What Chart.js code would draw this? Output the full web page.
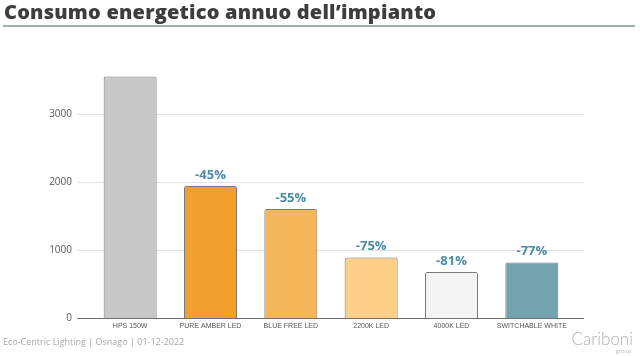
<!DOCTYPE html>
<html>
<head>
<meta charset="utf-8">
<script src="https://cdn.jsdelivr.net/npm/chart.js@4"></script>
<style>
  html, body { margin: 0; padding: 0; background: #fff; }
  #wrap { position: relative; width: 640px; height: 356px; overflow: hidden; }
  #title { position: absolute; left: 4px; top: -2px; font-family: "Open Sans", sans-serif; font-weight: 800; font-size: 20px; color: #3d3d3d; white-space: nowrap; letter-spacing: 0.2px; }
  #rule { position: absolute; left: 3px; top: 25px; width: 632px; height: 2px; background: #9fb0ab; }
  #footer { position: absolute; left: 3px; top: 335px; font-family: "Open Sans", sans-serif; font-size: 9px; color: #a8a8a8; white-space: nowrap; }
  #logo { position: absolute; right: 7px; top: 330px; font-family: Lato, sans-serif; font-weight: 300; font-size: 17px; color: #b3b3b3; line-height: 17px; }
  #logo2 { position: absolute; right: 9px; top: 347px; font-family: Lato, sans-serif; font-size: 6px; color: #c4c4c4; }
  canvas { position: absolute; left: 0; top: 0; }
</style>
</head>
<body>
<div id="wrap">
  <canvas id="c" width="640" height="356"></canvas>
  <div id="title">Consumo energetico annuo dell’impianto</div>
  <div id="rule"></div>
  <div id="footer">Eco-Centric Lighting | Osnago | 01-12-2022</div>
  <div id="logo">Cariboni</div>
  <div id="logo2">group</div>
</div>
<script>
const categories = ['HPS 150W', 'PURE AMBER LED', 'BLUE FREE LED', '2200K LED', '4000K LED', 'SWITCHABLE WHITE'];
const consumption = [3550, 1940, 1600, 888, 675, 816];
const savingLabels = ['', '-45%', '-55%', '-75%', '-81%', '-77%'];
const yTicks = [0, 1000, 2000, 3000];
const barColors = ['#c8c8c8', '#f0a02c', '#f5b65a', '#fdd08a', '#f3f3f3', '#74a3ad'];

const gridPlugin = {
  id: 'extGrid',
  beforeDatasetsDraw(chart) {
    const { ctx, chartArea, scales } = chart;
    ctx.save();
    ctx.lineWidth = 1;
    yTicks.forEach(v => {
      if (v === 0) return;
      const y = Math.round(scales.y.getPixelForValue(v)) + 0.5;
      ctx.strokeStyle = '#e3e3e3';
      ctx.beginPath();
      ctx.moveTo(chartArea.left - 13, y);
      ctx.lineTo(chartArea.right + 12, y);
      ctx.stroke();
    });
    ctx.restore();
  },
  afterDatasetsDraw(chart) {
    const { ctx, chartArea, scales } = chart;
    ctx.save();
    const y = Math.round(scales.y.getPixelForValue(0)) + 0.5;
    ctx.strokeStyle = '#6e6e6e';
    ctx.lineWidth = 1;
    ctx.beginPath();
    ctx.moveTo(chartArea.left - 13, y);
    ctx.lineTo(chartArea.right + 12, y);
    ctx.stroke();
    const meta = chart.getDatasetMeta(0);
    ctx.font = 'bold 13px "Open Sans", sans-serif';
    ctx.fillStyle = '#4d8aa6';
    ctx.textAlign = 'center';
    ctx.textBaseline = 'middle';
    meta.data.forEach((bar, i) => {
      if (savingLabels[i]) ctx.fillText(savingLabels[i], bar.x, bar.y - 11);
    });
    ctx.restore();
  }
};

new Chart(document.getElementById('c'), {
  type: 'bar',
  data: {
    labels: categories,
    datasets: [{
      data: consumption,
      backgroundColor: barColors,
      borderColor: '#7a7a7a',
      borderWidth: 1,
      borderRadius: 2,
      borderSkipped: 'bottom',
      categoryPercentage: 1,
      barPercentage: 0.66
    }]
  },
  options: {
    responsive: false,
    animation: false,
    layout: { padding: { left: 0, right: 68, top: 73, bottom: 0 } },
    plugins: { legend: { display: false }, tooltip: { enabled: false } },
    scales: {
      x: {
        grid: { display: false, drawTicks: false },
        border: { display: false },
        ticks: { color: '#555', font: { family: '"Liberation Sans", Arial, sans-serif', size: 7 }, padding: 4, maxRotation: 0, autoSkip: false },
        afterFit(s) { s.height = 38; }
      },
      y: {
        min: 0, max: 3600,
        grid: { display: false, drawTicks: false },
        border: { display: false },
        ticks: { color: '#555', font: { family: '"Open Sans", sans-serif', size: 10 }, padding: 18, callback: v => String(v) },
        afterBuildTicks(s) { s.ticks = yTicks.map(v => ({ value: v })); },
        afterFit(s) { s.width = 90; }
      }
    }
  },
  plugins: [gridPlugin]
});
</script>
</body>
</html>
